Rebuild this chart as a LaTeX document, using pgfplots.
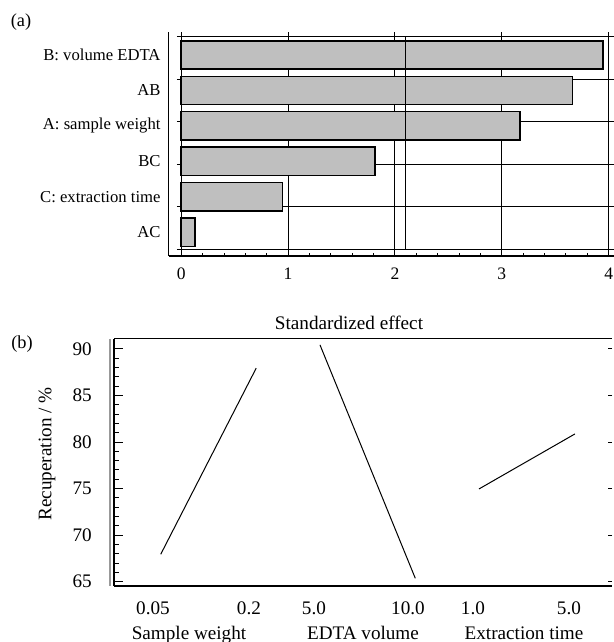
\documentclass[border=0pt]{standalone}
\usepackage{fontspec}
\setmainfont{Liberation Serif}
\usepackage{pgfplots}
\pgfplotsset{compat=1.18}

\begin{document}
\begin{tikzpicture}
\path[use as bounding box] (0,0) rectangle (368.4pt,385.2pt);

% ---------------- (a) Pareto chart of standardized effects ----------------
\begin{axis}[
  scale only axis, anchor=south west, at={(101.2pt,231.6pt)},
  width=267.2pt, height=134.6pt,
  xmin=-0.117, xmax=4.05, ymin=0.33, ymax=6.66,
  axis x line*=bottom, axis y line*=left,
  axis line style={line width=0.8pt, -},
  /pgf/number format/assume math mode=true,
  xtick={0,1,2,3,4}, minor x tick num=4,
  xmajorgrids, major grid style={black, line width=0.5pt},
  tick align=inside, major tick length=3pt, minor tick length=2pt,
  tick style={black, line width=0.5pt},
  xticklabel style={anchor=base, yshift=-14.4pt, font=\fontsize{10.5}{12}\selectfont},
  ytick={1,2,3,4,5,6},
  yticklabels={AC, C: extraction time, BC, A: sample weight, AB, B: volume EDTA},
  y tick style={draw=none},
  yticklabel style={anchor=east, inner sep=0pt, xshift=-4.7pt, font=\fontsize{10}{12}\selectfont},
  clip=false,
]
% horizontal grid lines (not aligned with the bars, as in the original)
\pgfplotsinvokeforeach{0.52,1.72,2.92,4.12,5.32,6.52}{
  \draw[black, line width=0.5pt] (axis cs:-0.04,#1) -- (axis cs:4.05,#1);
}
\addplot[xbar, bar width=0.8, fill=black!25, draw=black, line width=0.9pt]
  coordinates {(0.13,1) (0.95,2) (1.815,3) (3.17,4) (3.66,5) (3.945,6)};
% significance line
\addplot[black, line width=0.6pt] coordinates {(2.1,0.52) (2.1,6.52)};
\end{axis}

% ---------------- (b) main effects plot ----------------
\begin{axis}[
  scale only axis, anchor=south west, at={(68.4pt,33.6pt)},
  width=298.8pt, height=148.4pt,
  xmin=0.511, xmax=5.726, ymin=64.54, ymax=91.1,
  axis x line*=box, axis y line*=left,
  axis line style={line width=0.9pt, -},
  /pgf/number format/assume math mode=true,
  ytick={65,70,75,80,85,90}, minor y tick num=4,
  tick align=inside, major tick length=5.4pt, minor tick length=3pt,
  tick style={black, line width=0.6pt},
  xtick={0.919,1.924,2.605,3.589,4.27,5.275},
  xticklabels={0.05,0.2,5.0,10.0,1.0,5.0},
  x tick style={draw=none},
  xticklabel style={anchor=base, yshift=-17.4pt, font=\fontsize{11.5}{13}\selectfont},
  yticklabel style={anchor=east, inner sep=0pt, xshift=-13.2pt, font=\fontsize{11.5}{13}\selectfont},
  clip=false,
]
\draw[black!40, line width=0.8pt] ([xshift=-2.4pt]rel axis cs:0,0) -- ([xshift=-2.4pt]rel axis cs:0,1);
\pgfplotsinvokeforeach{65,70,75,80,85,90}{
  \draw[black, line width=0.6pt] (axis cs:5.726,#1) -- ([xshift=-2.5pt]axis cs:5.726,#1);
}
\addplot[black, line width=0.6pt] coordinates {(1,67.94) (2,87.93)};
\addplot[black, line width=0.6pt] coordinates {(2.668,90.43) (3.666,65.37)};
\addplot[black, line width=0.6pt] coordinates {(4.333,74.96) (5.338,80.87)};
\end{axis}

% ---------------- texts outside the axes ----------------
\node[font=\fontsize{11}{13}\selectfont] at (12.6pt,372pt) {(a)};
\node[font=\fontsize{11}{13}\selectfont] at (13.2pt,178.8pt) {(b)};
\node[font=\fontsize{11.5}{13}\selectfont] at (209.4pt,191.4pt) {Standardized effect};
\node[font=\fontsize{11.5}{13}\selectfont, rotate=90] at (28.2pt,112.8pt) {Recuperation / \%};
\node[font=\fontsize{11.5}{13}\selectfont, anchor=base] at (113.4pt,1.8pt) {Sample weight};
\node[font=\fontsize{11.5}{13}\selectfont, anchor=base] at (217.8pt,1.8pt) {EDTA volume};
\node[font=\fontsize{11.5}{13}\selectfont, anchor=base] at (314.4pt,1.8pt) {Extraction time};
\end{tikzpicture}
\end{document}
